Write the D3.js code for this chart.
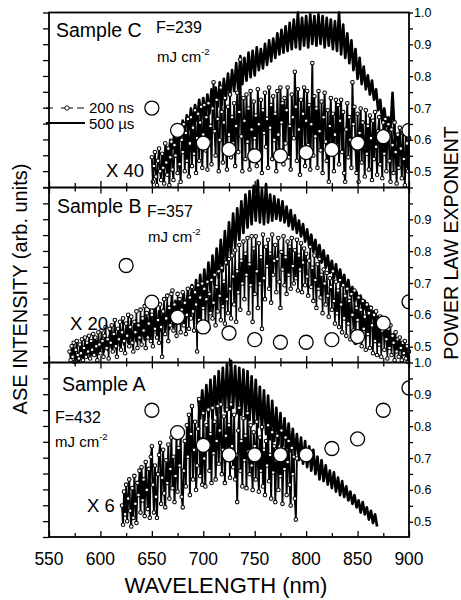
<!DOCTYPE html>
<html><head><meta charset="utf-8">
<script src="https://cdn.jsdelivr.net/npm/d3@7"></script>
<style>
body{margin:0;background:#fff}
svg{display:block}
text{font-family:Arial,"Liberation Sans",Helvetica,sans-serif;fill:#000}
</style>
</head><body>
<svg id="chart" width="461" height="600"></svg>
<script>
// ---------------- DATA ----------------
const nsStep = 1; // nm between 200 ns samples
const usStep = 2; // nm between 500 us samples
// Sample C (F = 239 mJ cm^-2), 200 ns spectrum (x40), 650..900 nm
const cNsStart = 650;
const cNs = [17,3,12,20,6,1,15,22,9,4,
 19,11,2,25,14,7,22,1,17,26,
 10,4,24,18,29,8,33,13,3,27,
 20,36,9,31,15,39,6,25,40,12,
 34,19,44,8,28,42,15,37,46,11,
 30,47,21,40,10,48,26,35,13,45,
 60,32,18,50,39,9,27,57,43,14,
 37,51,22,10,46,30,53,17,40,25,
 48,12,35,54,20,43,73,29,9,51,
 38,16,53,26,45,10,55,33,21,49,
 28,41,12,56,36,19,50,8,44,31,
 54,23,39,11,57,34,47,16,52,27,
 42,9,55,30,20,57,37,48,13,51,
 25,44,57,17,35,10,53,40,28,66,
 46,15,56,33,7,50,22,42,57,12,
 38,55,24,47,10,36,71,18,52,29,
 45,11,55,32,21,49,8,40,54,26,
 15,44,3,35,51,19,42,9,30,50,
 24,47,13,38,50,20,43,8,3,33,
 48,17,40,27,11,60,36,46,22,8,
 42,3,31,45,14,37,25,6,44,19,
 35,10,41,28,4,38,16,43,23,7,
 32,40,13,26,5,37,19,39,9,29,
 36,15,3,33,24,8,37,20,2,30,
 11,34,22,5,31,16,1,33,25,9,
 28];
// Sample C, 500 us spectrum, 660..900 nm
const cUsStart = 660;
const cUs = [19,14,23,16,27,22,31,24,35,27,
 38,31,41,33,45,36,47,38,50,39,
 51,40,53,42,56,43,57,46,60,47,
 62,50,65,52,67,55,71,56,75,59,
 74,61,77,63,78,64,80,67,79,68,
 82,70,84,72,85,74,88,76,90,77,
 92,78,94,79,96,80,100,79,97,81,
 98,80,99,82,98,81,99,82,98,80,
 97,81,96,79,95,78,100,76,93,74,
 88,71,84,67,79,62,74,59,69,56,
 64,53,61,50,56,44,50,38,45,35,
 40,32,54,30,29,24,24,18,17,12,
 10];
// Sample B (F = 357), 200 ns spectrum (x20), 570..900 nm
const bNsStart = 570;
const bNs = [6,1,9,3,11,0,7,12,4,2,
 10,5,13,1,8,14,3,11,6,15,
 2,12,7,16,4,14,9,1,17,10,
 5,18,12,3,15,20,8,13,2,19,
 11,21,6,16,24,9,3,19,13,23,
 7,17,25,12,5,22,15,27,9,20,
 26,11,6,23,17,29,8,21,14,30,
 10,25,18,32,8,28,14,22,33,12,
 27,9,31,19,35,14,24,11,33,20,
 3,29,36,16,25,38,12,31,21,39,
 41,18,33,26,15,39,23,36,17,30,
 40,21,34,16,27,42,19,37,25,43,
 29,18,40,33,6,44,24,37,20,45,
 31,42,22,36,46,19,39,28,47,25,
 34,50,21,43,29,52,38,24,54,32,
 46,22,57,36,28,59,42,25,61,49,
 33,64,23,52,40,67,30,58,45,69,
 36,62,50,71,28,56,44,72,23,65,
 39,72,52,31,68,45,60,19,73,48,
 36,66,55,70,42,62,34,73,50,58,
 67,40,59,71,46,31,63,53,72,44,
 60,39,69,50,66,42,71,55,45,64,
 48,70,41,61,53,68,40,57,65,44,
 62,49,38,58,66,43,54,35,61,47,
 31,56,42,59,37,50,28,53,45,33,
 51,38,26,48,43,30,52,35,22,46,
 28,41,20,47,33,17,44,25,38,15,
 42,22,35,13,39,27,18,41,11,31,
 24,37,14,30,9,35,19,26,7,33,
 16,28,8,31,21,5,27,12,29,4,
 23,10,26,3,18,24,7,20,13,2,
 19,8,21,4,15,11,1,17,6,13,
 3,14,8,1,11,5,12,2,9,0,
 6];
// Sample B, 500 us spectrum, 575..899 nm
const bUsStart = 575;
const bUs = [1,3,0,6,2,8,3,10,4,11,
 4,12,5,13,6,14,7,15,8,16,
 8,17,9,18,10,19,11,20,11,21,
 12,22,12,24,13,25,14,26,15,27,
 16,29,18,30,18,32,19,34,20,35,
 22,36,24,39,25,41,27,44,29,47,
 32,50,35,53,38,57,41,61,44,65,
 48,70,52,75,56,80,61,85,66,88,
 70,92,74,96,77,98,79,101,81,104,
 80,99,79,102,80,96,81,95,82,93,
 81,92,80,89,78,87,76,84,74,81,
 72,79,69,76,66,73,63,70,60,67,
 57,64,54,61,51,58,48,56,46,53,
 44,50,40,47,38,43,35,40,32,38,
 29,35,27,32,24,29,21,26,19,23,
 17,21,14,18,12,16,9,13,7,10,
 4,7,1];
// Sample A (F = 432), 200 ns spectrum (x6), 621..791 nm
const aNsStart = 621;
const aNs = [18,7,26,13,30,9,22,33,15,6,
 28,11,35,19,8,31,24,38,14,40,
 21,33,12,43,27,16,39,11,46,52,
 30,14,41,23,11,36,47,54,19,34,
 50,25,17,44,31,53,22,39,57,28,
 46,20,35,59,26,51,41,62,23,17,
 38,55,29,64,46,70,24,59,75,33,
 50,66,27,41,62,79,35,56,30,71,
 45,29,64,52,73,38,59,31,74,48,
 66,33,55,75,42,61,76,36,50,69,
 31,58,73,45,64,34,76,52,40,70,
 33,47,20,61,74,38,55,29,68,44,
 58,28,71,49,36,64,41,27,60,52,
 33,66,45,26,57,38,63,29,50,24,
 55,41,64,32,47,22,60,37,52,20,
 44,58,27,50,35,61,19,48,39,57,
 24,43,55,30,18,51,36,46,22,10,
 45];
// Sample A, 500 us spectrum, 695..869 nm
const aUsStart = 695;
const aUs = [80,68,84,67,87,69,90,68,92,70,
 95,71,97,72,99,73,101,74,98,71,
 97,70,96,68,95,67,92,65,90,63,
 86,61,84,59,81,56,78,55,74,53,
 71,52,68,51,65,49,62,47,59,44,
 57,42,55,40,52,38,50,36,46,33,
 44,32,41,30,38,28,37,26,34,24,
 32,23,29,21,26,19,24,17,21,14,
 20,13,17,10,15,8,13,6];
// Power law exponent (right axis)
const expWl = [625,650,675,700,725,750,775,800,825,850,875,900];
const cExp = [null,0.70,0.63,0.59,0.57,0.55,0.55,0.56,0.57,0.59,0.61,0.63];
const bExp = [0.755,0.64,0.593,0.562,0.543,0.522,0.514,0.514,0.522,0.532,0.574,0.641];
const aExp = [null,0.85,0.78,0.74,0.71,0.71,0.71,0.71,0.73,0.76,0.85,0.92];
// Axis ticks
const xTicks = [550,600,650,700,750,800,850,900];
const xMinorTicks = [575,625,675,725,775,825,875];
const expMajor = [0.5,0.6,0.7,0.8,0.9,1.0];
const expMinor = [0.55,0.65,0.75,0.85,0.95];
const expTickLabels = ["0.5","0.6","0.7","0.8","0.9","1.0"];
const sampleNames = ["Sample C","Sample B","Sample A"];
const fluences = ["F=239","F=357","F=432"];
const scaleFactors = ["X 40","X 20","X 6"];
const legendLabels = ["200 ns","500 \u00b5s"];

// ---------------- DRAW ----------------
const svg = d3.select("#chart");
const left = 49, right = 409;
const x = d3.scaleLinear().domain([550, 900]).range([left, right]);
const panelH = 174.5;
const tops = [12.5, 187.5, 362.5];

svg.append("defs").append("clipPath").attr("id","plotclip")
  .append("rect").attr("x", left).attr("y", 0).attr("width", right-left).attr("height", 600);

const series = [
  {ns:cNs, nsStart:cNsStart, us:cUs, usStart:cUsStart, exp:cExp},
  {ns:bNs, nsStart:bNsStart, us:bUs, usStart:bUsStart, exp:bExp},
  {ns:aNs, nsStart:aNsStart, us:aUs, usStart:aUsStart, exp:aExp}
];

series.forEach((s, pi) => {
  const t = tops[pi], b = t + panelH;
  const yI = d3.scaleLinear().domain([0, 100]).range([b, t]);
  const yE = d3.scaleLinear().domain([0.452, 1.0]).range([b, t]);
  const g = svg.append("g");

  const usPts = s.us.map((v,i)=>[s.usStart + i*usStep, v]);
  const nsPts = s.ns.map((v,i)=>[s.nsStart + i*nsStep, v]);
  const line = d3.line().x(d=>x(d[0])).y(d=>yI(d[1]));

  g.append("path").attr("d", line(usPts)).attr("fill","none")
    .attr("stroke","#000").attr("stroke-width",2.7).attr("stroke-linejoin","round");
  g.append("path").attr("d", line(nsPts)).attr("fill","none")
    .attr("stroke","#000").attr("stroke-width",pi === 1 ? 1.5 : 1.9).attr("stroke-linejoin","round");
  g.selectAll("circle.ns").data(nsPts).join("circle").attr("class","ns")
    .attr("cx", d=>x(d[0])).attr("cy", d=>yI(d[1])).attr("r", 1.8)
    .attr("fill","#fff").attr("stroke","#000").attr("stroke-width",1.05);

  const expPts = expWl.map((w,i)=>[w, s.exp[i]]).filter(d=>d[1]!=null);
  g.append("g").attr("clip-path","url(#plotclip)")
    .selectAll("circle").data(expPts).join("circle")
    .attr("cx", d=>x(d[0])).attr("cy", d=>yE(d[1])).attr("r", 7)
    .attr("fill","#fff").attr("stroke","#000").attr("stroke-width",1.3);

  // left axis (intensity, arb. units): ticks only
  const la = svg.append("g").attr("transform",`translate(${left},0)`)
    .call(d3.axisLeft(yI).tickValues(d3.range(0, 100.01, 100/11)).tickSize(6).tickFormat(""));
  la.select(".domain").remove();
  la.selectAll("line").attr("stroke-width",1.3);

  // right axis (power law exponent)
  const ticks = expMajor.concat(expMinor);
  const ra = svg.append("g").attr("transform",`translate(${right},0)`)
    .call(d3.axisRight(yE).tickValues(ticks).tickSize(4).tickPadding(1)
      .tickFormat(v => {
        const k = expMajor.findIndex(m=>Math.abs(m-v)<1e-9);
        if (k < 0) return "";
        if (pi === 1 && k === expMajor.length-1) return "";
        return expTickLabels[k];
      }));
  ra.select(".domain").remove();
  ra.selectAll("line").attr("stroke-width",1.3);
  ra.selectAll("text").style("font-size","12.5px");

  // bottom inward ticks
  const ba = svg.append("g").attr("transform",`translate(0,${b})`);
  ba.call(d3.axisBottom(x).tickValues(xTicks).tickSize(-6).tickFormat(""));
  ba.select(".domain").remove();
  const bm = svg.append("g").attr("transform",`translate(0,${b})`);
  bm.call(d3.axisBottom(x).tickValues(xMinorTicks).tickSize(-4).tickFormat(""));
  bm.select(".domain").remove();
  [ba,bm].forEach(a=>a.selectAll("line").attr("stroke-width",1.3));
  if (pi > 0) {
    const ta = svg.append("g").attr("transform",`translate(0,${t})`);
    ta.call(d3.axisTop(x).tickValues(xTicks).tickSize(-6).tickFormat(""));
    ta.select(".domain").remove();
    const tm = svg.append("g").attr("transform",`translate(0,${t})`);
    tm.call(d3.axisTop(x).tickValues(xMinorTicks).tickSize(-4).tickFormat(""));
    tm.select(".domain").remove();
    [ta,tm].forEach(a=>a.selectAll("line").attr("stroke-width",1.3));
  }
});

// frame
const frame = svg.append("g").attr("stroke","#000").attr("stroke-width",1.8).attr("fill","none");
frame.append("rect").attr("x",left).attr("y",tops[0]).attr("width",right-left).attr("height",tops[2]+panelH-tops[0]);
frame.append("line").attr("x1",left).attr("x2",right).attr("y1",tops[1]).attr("y2",tops[1]);
frame.append("line").attr("x1",left).attr("x2",right).attr("y1",tops[2]).attr("y2",tops[2]);

// x tick labels
svg.append("g").selectAll("text").data(xTicks).join("text")
  .attr("x", d=>x(d)).attr("y", 565).attr("text-anchor","middle")
  .style("font-size","17.5px").text(d=>d);

// panel annotations
const ann = [
  {name:[56,37], f:[156,33], mj:[157,62], sc:[106,177]},
  {name:[57,213], f:[147,217], mj:[148,242], sc:[70,330]},
  {name:[62,391], f:[55,423], mj:[55,447], sc:[87,512]}
];
ann.forEach((a,i)=>{
  svg.append("text").attr("x",a.name[0]).attr("y",a.name[1]).style("font-size","19.5px").text(sampleNames[i]);
  svg.append("text").attr("x",a.f[0]).attr("y",a.f[1]).style("font-size","16px").text(fluences[i]);
  const mj = svg.append("text").attr("x",a.mj[0]).attr("y",a.mj[1]).style("font-size","15px");
  mj.append("tspan").text("mJ cm");
  mj.append("tspan").attr("dy",-7).style("font-size","9.5px").text("-2");
  svg.append("text").attr("x",a.sc[0]).attr("y",a.sc[1]).style("font-size","18.5px").text(scaleFactors[i]);
});

// legend (panel C)
const lg = svg.append("g");
lg.append("line").attr("x1",46).attr("x2",53).attr("y1",108).attr("y2",108).attr("stroke","#000").attr("stroke-width",1);
lg.append("line").attr("x1",61).attr("x2",73).attr("y1",108).attr("y2",108).attr("stroke","#000").attr("stroke-width",1);
lg.append("line").attr("x1",77).attr("x2",84).attr("y1",108).attr("y2",108).attr("stroke","#000").attr("stroke-width",1);
lg.append("circle").attr("cx",67).attr("cy",108).attr("r",2.2).attr("fill","#fff").attr("stroke","#000").attr("stroke-width",0.9);
lg.append("text").attr("x",89).attr("y",113).style("font-size","15px").text(legendLabels[0]);
lg.append("line").attr("x1",46).attr("x2",85).attr("y1",123).attr("y2",123).attr("stroke","#000").attr("stroke-width",2);
lg.append("text").attr("x",89).attr("y",128.5).style("font-size","15px").text(legendLabels[1]);

// axis titles
svg.append("text").attr("transform","translate(27,289) rotate(-90)").attr("text-anchor","middle")
  .style("font-size","20px").text("ASE INTENSITY (arb. units)");
svg.append("text").attr("transform","translate(458,243) rotate(-90)").attr("text-anchor","middle")
  .style("font-size","19.5px").text("POWER LAW EXPONENT");
svg.append("text").attr("x",226).attr("y",593).attr("text-anchor","middle")
  .style("font-size","22px").text("WAVELENGTH (nm)");
</script>
</body></html>
